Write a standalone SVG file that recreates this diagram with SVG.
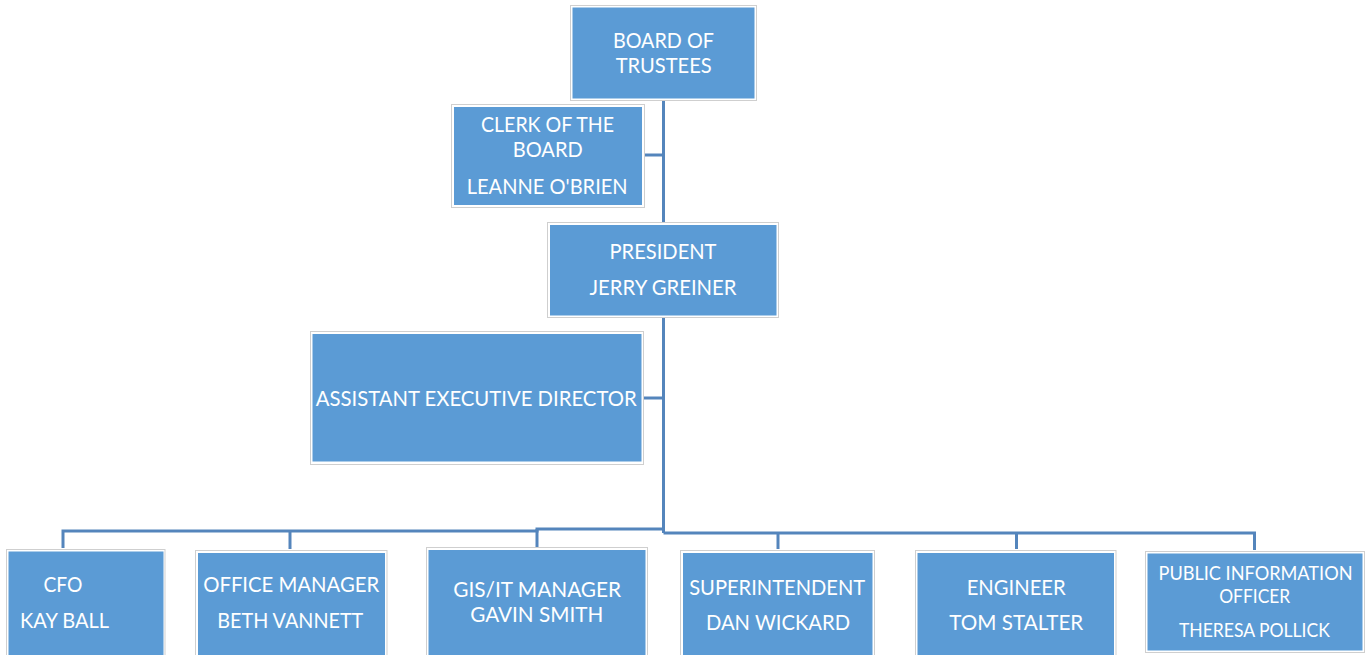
<svg xmlns="http://www.w3.org/2000/svg" width="1369" height="655" viewBox="0 0 1369 655">
  <style>
    .frame { fill: #ffffff; stroke: #cfcfcf; stroke-width: 1; }
    .box { fill: #5b9bd5; }
    .lbl { font-family: Lato, "Open Sans", "Liberation Sans", sans-serif; font-size: 21px; fill: #ffffff; }
    .sm { font-size: 18.5px; }
    .conn { fill: none; stroke: #5485bc; stroke-width: 3; }
  </style>

  <rect width="1369" height="655" fill="#ffffff"/>

  <!-- reporting lines -->
  <g id="connectors">
    <path class="conn" d="M663.5 99 V533"/>
    <path class="conn" d="M642 155 H663.5"/>
    <path class="conn" d="M642 398 H663.5"/>
    <path class="conn" d="M63 548 V531 H537 V529 H663.5"/>
    <path class="conn" d="M290 549 V531"/>
    <path class="conn" d="M537 547 V529"/>
    <path class="conn" d="M663.5 533 H1254.5 V550"/>
    <path class="conn" d="M778 549 V533"/>
    <path class="conn" d="M1016.5 549 V533"/>
  </g>

  <g id="board">
    <rect class="frame" x="570.5" y="5.5" width="186" height="95"/>
    <rect class="box" x="572.5" y="7.5" width="182" height="91"/>
    <text class="lbl" x="663.4" y="47.7" text-anchor="middle" textLength="101" lengthAdjust="spacingAndGlyphs">BOARD OF</text>
    <text class="lbl" x="663.7" y="72.7" text-anchor="middle" textLength="96" lengthAdjust="spacingAndGlyphs">TRUSTEES</text>
  </g>

  <g id="clerk">
    <rect class="frame" x="451.5" y="104.5" width="193" height="103"/>
    <rect class="box" x="454" y="107" width="188" height="98"/>
    <text class="lbl" x="547.5" y="131.7" text-anchor="middle" textLength="133" lengthAdjust="spacingAndGlyphs">CLERK OF THE</text>
    <text class="lbl" x="547.7" y="157.3" text-anchor="middle" textLength="70" lengthAdjust="spacingAndGlyphs">BOARD</text>
    <text class="lbl" x="547.2" y="194.3" text-anchor="middle" textLength="161" lengthAdjust="spacingAndGlyphs">LEANNE O'BRIEN</text>
  </g>

  <g id="president">
    <rect class="frame" x="547.5" y="222.5" width="231" height="95"/>
    <rect class="box" x="550" y="225" width="226.5" height="90.5"/>
    <text class="lbl" x="663" y="259.3" text-anchor="middle" textLength="107" lengthAdjust="spacingAndGlyphs">PRESIDENT</text>
    <text class="lbl" x="663" y="295" text-anchor="middle" textLength="147" lengthAdjust="spacingAndGlyphs">JERRY GREINER</text>
  </g>

  <g id="assistant-director">
    <rect class="frame" x="310.5" y="331.5" width="333" height="133"/>
    <rect class="box" x="312.5" y="334" width="329" height="127.5"/>
    <text class="lbl" x="476.2" y="406" text-anchor="middle" textLength="321" lengthAdjust="spacingAndGlyphs">ASSISTANT EXECUTIVE DIRECTOR</text>
  </g>

  <g id="cfo">
    <rect class="frame" x="6.5" y="549.5" width="158.5" height="110"/>
    <rect class="box" x="8.5" y="551.5" width="155" height="110"/>
    <text class="lbl" x="63" y="592" text-anchor="middle" textLength="39" lengthAdjust="spacingAndGlyphs">CFO</text>
    <text class="lbl" x="64.5" y="628" text-anchor="middle" textLength="89" lengthAdjust="spacingAndGlyphs">KAY BALL</text>
  </g>

  <g id="office-manager">
    <rect class="frame" x="195.5" y="550.5" width="191.5" height="110"/>
    <rect class="box" x="198" y="553" width="187" height="110"/>
    <text class="lbl" x="291.2" y="592" text-anchor="middle" textLength="176" lengthAdjust="spacingAndGlyphs">OFFICE MANAGER</text>
    <text class="lbl" x="290.3" y="628" text-anchor="middle" textLength="146" lengthAdjust="spacingAndGlyphs">BETH VANNETT</text>
  </g>

  <g id="gis-it-manager">
    <rect class="frame" x="426.5" y="547.5" width="221" height="110"/>
    <rect class="box" x="428.5" y="550" width="217" height="110"/>
    <text class="lbl" x="537.2" y="597.3" text-anchor="middle" textLength="168" lengthAdjust="spacingAndGlyphs">GIS/IT MANAGER</text>
    <text class="lbl" x="536.7" y="622.3" text-anchor="middle" textLength="133" lengthAdjust="spacingAndGlyphs">GAVIN SMITH</text>
  </g>

  <g id="superintendent">
    <rect class="frame" x="680.5" y="550.5" width="194" height="110"/>
    <rect class="box" x="683" y="553" width="189.5" height="110"/>
    <text class="lbl" x="777.2" y="595" text-anchor="middle" textLength="176" lengthAdjust="spacingAndGlyphs">SUPERINTENDENT</text>
    <text class="lbl" x="778" y="630" text-anchor="middle" textLength="144" lengthAdjust="spacingAndGlyphs">DAN WICKARD</text>
  </g>

  <g id="engineer">
    <rect class="frame" x="915.5" y="550.5" width="200.5" height="110"/>
    <rect class="box" x="917.5" y="553" width="196.5" height="110"/>
    <text class="lbl" x="1016.2" y="595" text-anchor="middle" textLength="99" lengthAdjust="spacingAndGlyphs">ENGINEER</text>
    <text class="lbl" x="1016.3" y="630" text-anchor="middle" textLength="134" lengthAdjust="spacingAndGlyphs">TOM STALTER</text>
  </g>

  <g id="public-information-officer">
    <rect class="frame" x="1145.5" y="551.5" width="219" height="101"/>
    <rect class="box" x="1147.5" y="553.5" width="215" height="97"/>
    <text class="lbl sm" x="1255.5" y="580" text-anchor="middle" textLength="194" lengthAdjust="spacingAndGlyphs">PUBLIC INFORMATION</text>
    <text class="lbl sm" x="1254.7" y="603.3" text-anchor="middle" textLength="71" lengthAdjust="spacingAndGlyphs">OFFICER</text>
    <text class="lbl sm" x="1254.4" y="636.7" text-anchor="middle" textLength="151" lengthAdjust="spacingAndGlyphs">THERESA POLLICK</text>
  </g>
</svg>
